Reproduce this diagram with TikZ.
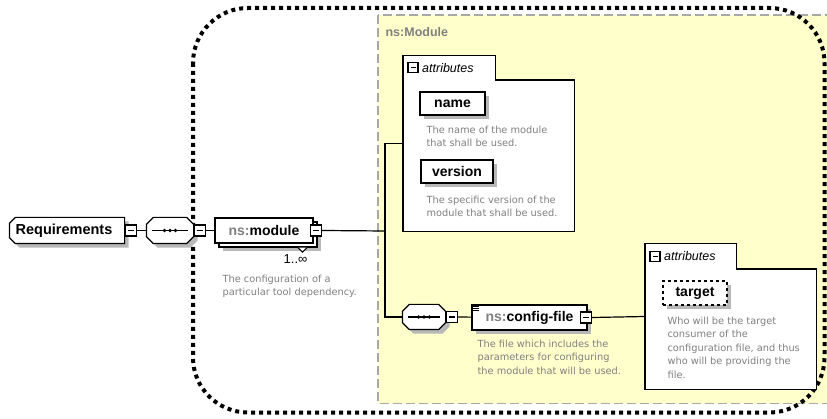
\documentclass[tikz,border=0pt]{standalone}
\usepackage{fontspec}
\setmainfont{Liberation Sans}
\newfontfamily\descfont{DejaVu Sans}
\usetikzlibrary{shadows,positioning,calc}

\definecolor{moduleyellow}{RGB}{255,255,204}
\definecolor{nsgray}{RGB}{128,128,128}
\definecolor{framegray}{RGB}{168,168,168}
\newcommand{\ns}{\textcolor{nsgray}{ns:}}

\begin{document}
\begin{tikzpicture}[x=1pt,y=-1pt,line width=1.2pt,
  shade/.style={drop shadow={shadow xshift=4pt,shadow yshift=-4pt,fill=black!28,opacity=1}},
  plainelem/.style={draw,fill=white,inner sep=0pt,minimum height=25pt,
    font=\fontsize{14}{16}\selectfont\bfseries},
  elem/.style={plainelem,shade},
  attr/.style={elem,minimum height=23pt},
  area/.style={draw=none,inner sep=0pt},
  label/.style={inner sep=0pt,font=\fontsize{14.5}{16}\selectfont\bfseries},
  minus/.style={draw,fill=white,minimum size=11pt,inner sep=0pt,
    path picture={\draw ([xshift=2.5pt]path picture bounding box.west) -- ([xshift=-2.5pt]path picture bounding box.east);}},
  desc/.style={anchor=north west,inner sep=0pt,align=left,text=nsgray,
    font=\descfont\fontsize{9.8}{13.5}\selectfont},
  tabtext/.style={font=\fontsize{12.5}{14}\selectfont\itshape,inner sep=0pt}
]
\useasboundingbox (0,0) rectangle (827,419);

\draw[fill=moduleyellow,draw=framegray,line width=1.5pt,dash pattern=on 9pt off 4pt]
  (378,15) rectangle (835,403.5);
\draw[line width=4pt,dash pattern=on 4pt off 4pt,rounded corners=55pt]
  (193,8) rectangle (824.5,412.5);
\node[anchor=west,inner sep=0pt,text=nsgray,font=\fontsize{12.5}{14}\selectfont\bfseries]
  (modlabel) at (385,32) {ns:Module};

\node[area,minimum width=114pt,minimum height=25pt] (req) at (67,230.5) {};
\node[area,minimum width=46pt,minimum height=25pt] (seq1) at (170,230.5) {};
\node[area,minimum width=42pt,minimum height=24pt] (seq2) at (424,317) {};
\path[draw,fill=white,shade] ([xshift=6pt]req.north west) -- (req.north east) -- (req.south east)
  -- ([xshift=6pt]req.south west) -- ([yshift=6pt]req.south west) -- ([yshift=-6pt]req.north west) -- cycle;
\foreach \s in {seq1,seq2}
  \path[draw,fill=white,shade] ([xshift=7pt]\s.north west) -- ([xshift=-7pt]\s.north east)
    -- ([yshift=-7pt]\s.north east) -- ([yshift=7pt]\s.south east) -- ([xshift=-7pt]\s.south east)
    -- ([xshift=7pt]\s.south west) -- ([yshift=7pt]\s.south west) -- ([yshift=-7pt]\s.north west) -- cycle;
\node[label] (reqlabel) at ([xshift=-3pt]req.center) {Requirements};
\node[minus,right=0pt of req] (reqm) {};
\node[minus,right=0pt of seq1] (seq1m) {};
\node[minus,right=0pt of seq2] (seq2m) {};
\foreach \s in {seq1,seq2} {
  \draw ([xshift=6pt]\s.west) -- ([xshift=-6pt]\s.east);
  \foreach \d in {-5.5,0,5.5}
    \fill ([xshift=\d pt]\s.center) circle (1.9pt);
}

\node[elem,minimum width=98pt] (moduleback) at (268,234.5) {};
\node[plainelem,minimum width=98pt] (module) at (264,230.5) {\ns module};
\node[minus] (modm) at ([xshift=2pt]module.east) {};
\draw[fill=white,line width=1pt] ([xshift=30pt]moduleback.south) -- ++(4.5,4.5) -- ++(4.5,-4.5);
\node[anchor=north east,inner sep=0pt,font=\fontsize{13}{15}\selectfont] (occ) at (308,253.5) {1..∞};
\node[desc] (moduleinfo) at (222,274) {The configuration of a\\particular tool dependency.};

\node[area,minimum width=170pt,minimum height=150pt,anchor=north west] (attrA) at (403,80) {};
\node[area,minimum width=91pt,minimum height=23pt,anchor=south west] (attrAtab) at (attrA.north west) {};
\draw[fill=white] (attrAtab.south west) |- (attrAtab.north east) |- (attrA.north east) |- (attrA.south west) -- cycle;
\node[minus,minimum size=10pt] (attrAm) at ([xshift=10pt]attrAtab.west) {};
\node[tabtext,right=3pt of attrAm] (attrAlabel) {attributes};
\node[attr,minimum width=65pt] (name) at (452.5,103.5) {name};
\node[desc] (nameinfo) at (426,125) {The name of the module\\that shall be used.};
\node[attr,minimum width=72pt] (version) at (457,171.5) {version};
\node[desc] (versioninfo) at (426,195) {The specific version of the\\module that shall be used.};

\node[elem,minimum width=115pt] (cfg) at (529.5,317.5) {\ns config-file};
\node[minus] (cfgm) at ([xshift=-1.5pt]cfg.east) {};
\foreach \k in {0,2,4}
  \draw[line width=0.8pt] ([xshift=2pt,yshift={-(2.5+\k)*1pt}]cfg.north west) -- ++(6,0);
\node[desc] (cfginfo) at (477,339) {The file which includes the\\parameters for configuring\\the module that will be used.};

\node[area,minimum width=170pt,minimum height=119pt,anchor=north west] (attrB) at (645,269) {};
\node[area,minimum width=90pt,minimum height=24pt,anchor=south west] (attrBtab) at (attrB.north west) {};
\draw[fill=white] (attrBtab.south west) |- (attrBtab.north east) |- (attrB.north east) |- (attrB.south west) -- cycle;
\node[minus,minimum size=10pt] (attrBm) at ([xshift=10pt]attrBtab.west) {};
\node[tabtext,right=3pt of attrBm] (attrBlabel) {attributes};
\node[attr,dashed,minimum width=64pt,minimum height=24pt] (target) at (695,293) {target};
\node[desc] (targetinfo) at (667,316) {Who will be the target\\consumer of the\\configuration file, and thus\\who will be providing the\\file.};

\coordinate (bus) at (385,231);
\coordinate (attrAin) at ($(attrAtab.north west)!0.5!(attrA.south west)$);
\coordinate (attrBin) at ($(attrBtab.north west)!0.5!(attrB.south west)$);
\draw (reqm) -- (seq1);
\draw (seq1m) -- (module);
\draw (modm.east) -- (bus);
\draw (attrAin) -| (bus) |- (seq2.west);
\draw (seq2m) -- (cfg);
\draw (cfgm.east) -- (attrBin);
\end{tikzpicture}
\end{document}
